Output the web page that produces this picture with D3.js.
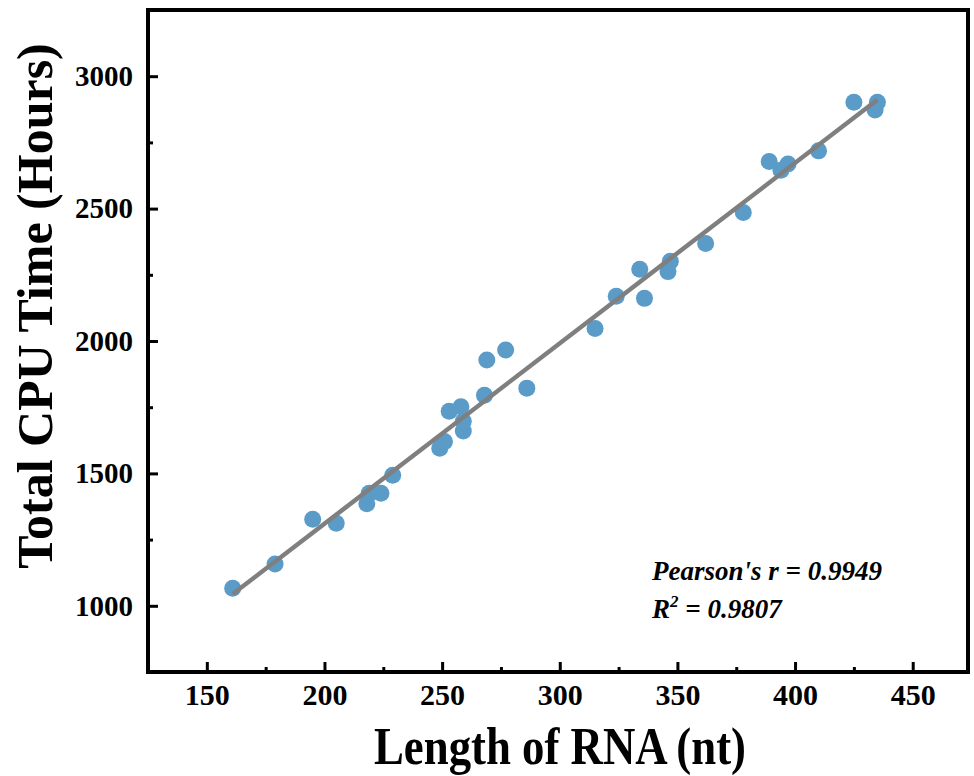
<!DOCTYPE html>
<html>
<head>
<meta charset="utf-8">
<script src="https://cdn.jsdelivr.net/npm/d3@7/dist/d3.min.js"></script>
<style>
  body { margin: 0; background: #fff; }
  svg text { font-family: "Liberation Serif", "Times New Roman", serif; font-weight: bold; fill: #000; }
</style>
</head>
<body>
<div class="chart"></div>
<script>
var width = 974, height = 776

// length of RNA (nt) and total CPU time (hours)
var rnaLength = [161, 179, 195, 205, 218, 219, 224, 229, 249, 251, 253, 258, 259, 259, 268, 269, 277, 286,
                 315, 324, 334, 336, 346, 347, 362, 378, 389, 394, 397, 410, 425, 434, 435]
var cpuHours  = [1066, 1158, 1327, 1312, 1385, 1425, 1425, 1493, 1595, 1620, 1735, 1752, 1697, 1660, 1795, 1928, 1966, 1822,
                 2047, 2169, 2271, 2161, 2262, 2301, 2368, 2485, 2678, 2645, 2668, 2718, 2902, 2872, 2902]

var xMajor = [150, 200, 250, 300, 350, 400, 450]
var xMinor = [175, 225, 275, 325, 375, 425]
var yMajor = [1000, 1500, 2000, 2500, 3000]
var yMinor = [1250, 1750, 2250, 2750]

var statLines = ["Pearson's r = 0.9949", "0.9807"]

var svg = d3.select('.chart')
    .append('svg')
    .attr("width", width)
    .attr("height", height)

var x = d3.scaleLinear().domain([125, 473.5]).range([148, 968])
var y = d3.scaleLinear().domain([750, 3250]).range([672, 10])

// least squares fit for the grey line
var mx = d3.mean(rnaLength), my = d3.mean(cpuHours)
var sxy = d3.sum(rnaLength, function(d, i){ return (d - mx) * (cpuHours[i] - my) })
var sxx = d3.sum(rnaLength, function(d){ return (d - mx) * (d - mx) })
var slope = sxy / sxx
var icpt = my - slope * mx

var pts = rnaLength.map(function(d, i){ return {x: d, y: cpuHours[i]} })

svg.append("g")
    .selectAll("circle")
    .data(pts)
    .enter()
    .append("circle")
    .attr("cx", function(d){ return x(d.x) })
    .attr("cy", function(d){ return y(d.y) })
    .attr("r", 8.5)
    .attr("fill", "#5b9bc8")

var x0 = d3.min(rnaLength), x1 = d3.max(rnaLength)
svg.append("line")
    .attr("x1", x(x0))
    .attr("y1", y(icpt + slope * x0))
    .attr("x2", x(x1))
    .attr("y2", y(icpt + slope * x1))
    .attr("stroke", "#7f7f7f")
    .attr("stroke-width", 4.5)

// frame
svg.append("rect")
    .attr("x", x.range()[0])
    .attr("y", y.range()[1])
    .attr("width", x.range()[1] - x.range()[0])
    .attr("height", y.range()[0] - y.range()[1])
    .attr("fill", "none")
    .attr("stroke", "#000")
    .attr("stroke-width", 4)

// axes, ticks pointing inward
function styleAxis(g){
    g.select(".domain").remove()
    g.selectAll("line").attr("stroke", "#000").attr("stroke-width", 3)
}

svg.append("g")
    .attr("transform", "translate(0," + y.range()[0] + ")")
    .call(d3.axisBottom(x).tickValues(xMajor).tickSize(-10).tickPadding(12).tickFormat(d3.format("d")))
    .call(styleAxis)
    .selectAll("text").attr("font-size", 30)

svg.append("g")
    .attr("transform", "translate(0," + y.range()[0] + ")")
    .call(d3.axisBottom(x).tickValues(xMinor).tickSize(-5).tickFormat(""))
    .call(styleAxis)

svg.append("g")
    .attr("transform", "translate(" + x.range()[0] + ",0)")
    .call(d3.axisLeft(y).tickValues(yMajor).tickSize(-10).tickPadding(15).tickFormat(d3.format("d")))
    .call(styleAxis)
    .selectAll("text").attr("font-size", 29)

svg.append("g")
    .attr("transform", "translate(" + x.range()[0] + ",0)")
    .call(d3.axisLeft(y).tickValues(yMinor).tickSize(-5).tickFormat(""))
    .call(styleAxis)

// axis titles
svg.append("text")
    .attr("x", 560)
    .attr("y", 764)
    .attr("text-anchor", "middle")
    .attr("font-size", 52)
    .attr("textLength", 372)
    .attr("lengthAdjust", "spacingAndGlyphs")
    .text("Length of RNA (nt)")

svg.append("text")
    .attr("transform", "translate(52,306) rotate(-90)")
    .attr("text-anchor", "middle")
    .attr("font-size", 50)
    .text("Total CPU Time (Hours)")

// stats
svg.append("text")
    .attr("x", 652)
    .attr("y", 580)
    .attr("font-size", 27)
    .attr("font-style", "italic")
    .text(statLines[0])

var r2 = svg.append("text")
    .attr("x", 652)
    .attr("y", 618)
    .attr("font-size", 27)
    .attr("font-style", "italic")
r2.append("tspan").text("R")
r2.append("tspan").attr("dy", -11).attr("font-size", 17).text("2")
r2.append("tspan").attr("dy", 11).text(" = " + statLines[1])
</script>
</body>
</html>
